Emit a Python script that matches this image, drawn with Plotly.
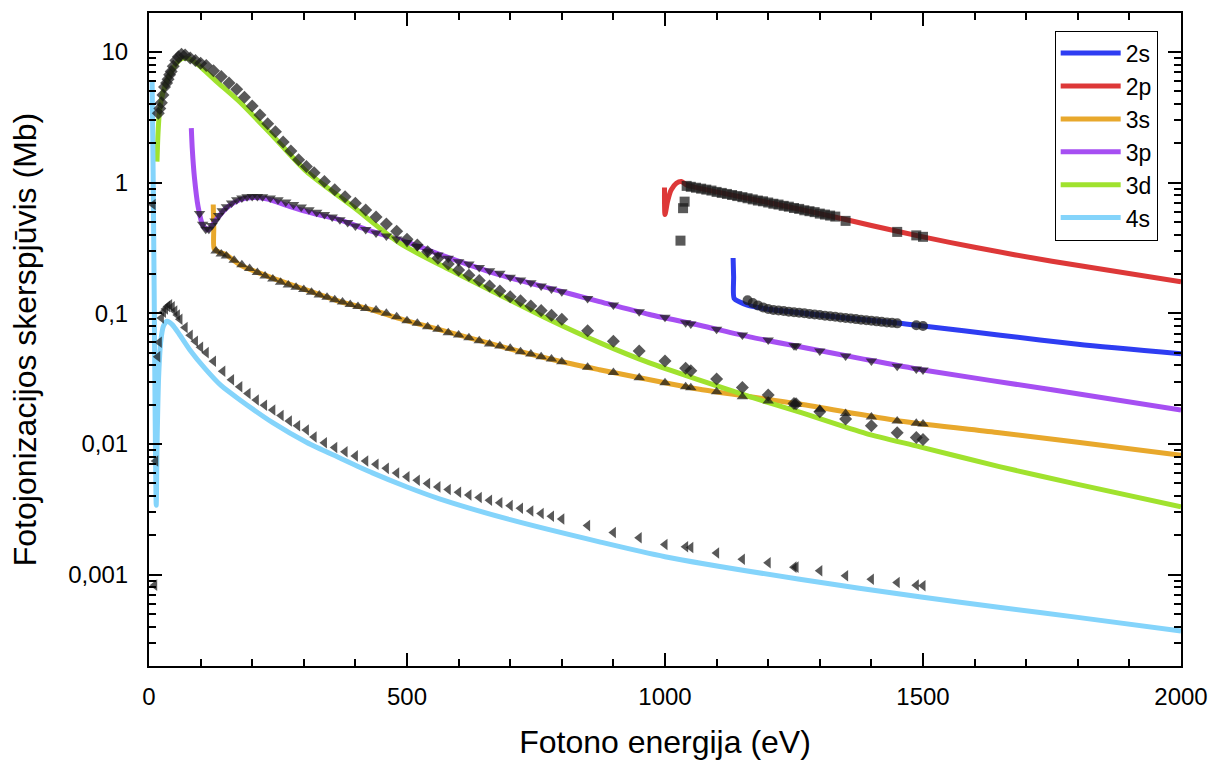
import plotly.graph_objects as go

# ---- calculated cross sections (lines) ----
e_2s = [1132, 1133, 1134, 1145, 1158, 1196, 1261, 1350, 1455, 1500, 1650, 1800, 2000]
s_2s = [0.265, 0.19, 0.13, 0.122, 0.116, 0.108, 0.101, 0.092, 0.084, 0.080, 0.068, 0.058, 0.049]

e_2p = [999, 1000, 1005, 1012, 1022, 1032, 1042, 1100, 1200, 1300, 1400, 1500, 1600, 1750, 2000]
s_2p = [0.92, 0.57, 0.72, 0.88, 0.99, 1.02, 0.96, 0.85, 0.705, 0.58, 0.47, 0.385, 0.32, 0.25, 0.174]

e_3s = [124.5, 125.5, 126.5, 135, 150, 176, 240, 305, 370, 434, 486, 563, 680, 800, 873,
        1000, 1067, 1261, 1454, 1648, 1800, 2000]
s_3s = [0.68, 0.45, 0.31, 0.295, 0.28, 0.235, 0.186, 0.151, 0.123, 0.106, 0.091, 0.075, 0.056,
        0.0426, 0.037, 0.0294, 0.0262, 0.0202, 0.015, 0.0122, 0.0103, 0.0082]

e_3p = [82, 84, 88, 95, 104, 114, 130, 150, 176, 200, 230, 272, 320, 370, 420, 466, 500, 583,
        680, 777, 873, 970, 1067, 1164, 1261, 1380, 1500, 1750, 2000]
s_3p = [2.62, 1.78, 1.1, 0.66, 0.475, 0.435, 0.52, 0.64, 0.74, 0.77, 0.75, 0.66, 0.58, 0.52,
        0.44, 0.386, 0.35, 0.265, 0.197, 0.155, 0.123, 0.098, 0.081, 0.066, 0.0555, 0.045,
        0.0368, 0.026, 0.0182]

e_3d = [15.5, 17.5, 20.7, 27, 37, 47, 55, 63, 72, 85, 100, 130, 176, 240, 305, 395, 486, 583,
        680, 777, 873, 970, 1067, 1164, 1261, 1390, 1494, 1648, 1800, 2000]
s_3d = [1.45, 2.4, 3.6, 4.9, 6.3, 7.5, 8.4, 8.9, 9.0, 8.6, 7.7, 6.0, 4.15, 2.28, 1.22, 0.656,
        0.344, 0.215, 0.138, 0.0888, 0.0596, 0.0417, 0.0308, 0.023, 0.0175, 0.012, 0.0095,
        0.0067, 0.0049, 0.0033]

e_4s = [6, 8, 10, 12, 14, 16, 19, 23, 28, 35, 45, 60, 80, 110, 140, 175, 239, 305, 370, 433,
        500, 563, 700, 873, 1000, 1261, 1500, 1650, 1800, 2000]
s_4s = [6.1, 1.2, 0.15, 0.015, 0.0034, 0.012, 0.035, 0.062, 0.080, 0.087, 0.082, 0.068, 0.052,
        0.0372, 0.0279, 0.0219, 0.0146, 0.0103, 0.0078, 0.0060, 0.00468, 0.0038, 0.00263,
        0.00178, 0.00137, 0.00092, 0.00067, 0.00056, 0.00047, 0.00037]

# ---- reference data points (markers) ----
p_2s_e = [1160, 1170, 1180, 1190, 1200, 1210, 1220, 1230, 1240, 1250, 1260, 1270, 1280, 1290,
          1300, 1310, 1320, 1330, 1340, 1350, 1360, 1370, 1380, 1390, 1400, 1410, 1420, 1430,
          1440, 1450, 1487, 1500]
p_2s_s = [0.126, 0.12, 0.115, 0.111, 0.108, 0.106, 0.105, 0.104, 0.103, 0.102, 0.101, 0.1,
          0.099, 0.098, 0.097, 0.096, 0.095, 0.094, 0.093, 0.092, 0.0912, 0.0903, 0.0894,
          0.0885, 0.0876, 0.0868, 0.086, 0.0852, 0.0845, 0.0838, 0.081, 0.080]

p_2p_e = [1030, 1035, 1038, 1042, 1050, 1060, 1070, 1080, 1090, 1100, 1110, 1120, 1130, 1140,
          1150, 1160, 1170, 1180, 1190, 1200, 1210, 1220, 1230, 1240, 1250, 1260, 1270, 1280,
          1290, 1300, 1310, 1320, 1330, 1350, 1450, 1487, 1500]
p_2p_s = [0.36, 0.638, 0.716, 0.945, 0.93, 0.915, 0.90, 0.885, 0.87, 0.85, 0.835, 0.82, 0.805,
          0.79, 0.775, 0.76, 0.745, 0.73, 0.72, 0.705, 0.69, 0.68, 0.665, 0.655, 0.64, 0.63,
          0.615, 0.605, 0.595, 0.58, 0.57, 0.56, 0.55, 0.51, 0.42, 0.395, 0.385]

p_3s_e = [130, 140, 150, 165, 180, 195, 210, 225, 240, 255, 270, 285, 300, 315, 330, 345, 360,
          375, 390, 405, 420, 440, 460, 480, 500, 520, 540, 560, 580, 600, 620, 640, 660, 680,
          700, 720, 740, 760, 780, 800, 850, 900, 950, 1000, 1040, 1050, 1100, 1150, 1200,
          1250, 1254, 1300, 1350, 1400, 1450, 1487, 1500]
p_3s_s = [0.30, 0.285, 0.275, 0.255, 0.235, 0.22, 0.205, 0.193, 0.183, 0.173, 0.165, 0.158,
          0.152, 0.145, 0.138, 0.133, 0.127, 0.122, 0.117, 0.113, 0.109, 0.106, 0.100, 0.0942,
          0.0878, 0.0838, 0.079, 0.0754, 0.071, 0.0682, 0.065, 0.0617, 0.0582, 0.0562, 0.0539,
          0.0508, 0.0488, 0.0465, 0.0447, 0.0426, 0.0386, 0.0353, 0.0321, 0.0294, 0.0274,
          0.0269, 0.0251, 0.023, 0.0213, 0.0202, 0.0201, 0.0184, 0.0171, 0.0161, 0.015,
          0.0144, 0.0142]

p_3p_e = [98, 104, 110, 116, 122, 128, 135, 142, 150, 160, 170, 180, 190, 200, 210, 220, 235,
          250, 265, 280, 295, 310, 325, 340, 355, 370, 385, 400, 420, 440, 460, 480, 500, 520,
          540, 560, 580, 600, 620, 640, 660, 680, 700, 720, 740, 760, 780, 800, 850, 900, 950,
          1000, 1040, 1050, 1100, 1150, 1200, 1250, 1254, 1300, 1350, 1400, 1450, 1487, 1500]
p_3p_s = [0.58, 0.48, 0.44, 0.44, 0.47, 0.51, 0.56, 0.61, 0.655, 0.70, 0.74, 0.765, 0.78,
          0.785, 0.785, 0.78, 0.765, 0.74, 0.71, 0.68, 0.65, 0.62, 0.595, 0.57, 0.545, 0.52,
          0.495, 0.467, 0.4385, 0.412, 0.391, 0.371, 0.349, 0.324, 0.296, 0.28, 0.264, 0.248,
          0.239, 0.224, 0.212, 0.2025, 0.189, 0.18, 0.1715, 0.162, 0.1535, 0.1464, 0.130,
          0.1158, 0.1029, 0.0932, 0.0848, 0.0828, 0.0754, 0.0682, 0.0624, 0.0565, 0.0562,
          0.0514, 0.0472, 0.0431, 0.0394, 0.0374, 0.0368]

p_3d_e = [18, 21, 24, 27, 30, 34, 37, 40, 43, 47, 52, 57, 63, 70, 80, 90, 100, 111, 125, 140,
          155, 170, 185, 200, 215, 230, 245, 260, 275, 290, 305, 320, 340, 360, 380, 400, 420,
          440, 460, 480, 500, 520, 540, 560, 580, 600, 620, 640, 660, 680, 700, 720, 740, 760,
          780, 800, 850, 900, 950, 1000, 1040, 1050, 1100, 1150, 1200, 1250, 1254, 1300, 1350,
          1400, 1450, 1487, 1500]
p_3d_s = [3.4, 3.7, 4.1, 4.7, 5.4, 5.8, 6.2, 6.7, 7.1, 7.8, 8.6, 9.2, 9.6, 9.5, 9.0, 8.6, 8.2,
          7.9, 7.2, 6.5, 5.8, 5.2, 4.5, 3.87, 3.3, 2.82, 2.45, 2.05, 1.75, 1.5, 1.33, 1.19,
          1.02, 0.881, 0.782, 0.697, 0.619, 0.547, 0.483, 0.424, 0.369, 0.334, 0.296, 0.264,
          0.239, 0.215, 0.196, 0.178, 0.162, 0.148, 0.134, 0.125, 0.114, 0.105, 0.0966, 0.090,
          0.0736, 0.061, 0.0514, 0.0431, 0.0379, 0.0363, 0.0314, 0.0271, 0.0237, 0.0204,
          0.0203, 0.0176, 0.0155, 0.0138, 0.0122, 0.0112, 0.0108]

p_4s_e = [8, 11, 13, 17, 20, 24, 28, 32, 36, 40, 45, 50, 55, 60, 70, 80, 90, 100, 111, 125,
          143, 160, 176, 192, 208, 224, 240, 256, 272, 288, 305, 320, 340, 360, 380, 400, 420,
          440, 460, 480, 500, 520, 540, 560, 580, 600, 620, 640, 660, 680, 700, 720, 740, 760,
          780, 800, 850, 900, 950, 1000, 1040, 1050, 1100, 1150, 1200, 1250, 1254, 1300, 1350,
          1400, 1450, 1487, 1500]
p_4s_s = [0.68, 0.00083, 0.0074, 0.0465, 0.06, 0.092, 0.102, 0.108, 0.113, 0.116, 0.112,
          0.104, 0.097, 0.09, 0.078, 0.068, 0.061, 0.055, 0.05, 0.043, 0.036, 0.031, 0.0274,
          0.0243, 0.0217, 0.0198, 0.0182, 0.0165, 0.015, 0.0138, 0.0128, 0.0113, 0.0102,
          0.0094, 0.0087, 0.0081, 0.0074, 0.007, 0.0065, 0.006, 0.0056, 0.00528, 0.00498,
          0.00469, 0.00448, 0.00427, 0.00407, 0.00389, 0.00371, 0.00354, 0.00337, 0.00322,
          0.00307, 0.00293, 0.00279, 0.00266, 0.00237, 0.0021, 0.00191, 0.0017, 0.00163,
          0.00161, 0.00146, 0.00131, 0.00123, 0.00114, 0.00114, 0.00107, 0.00098, 0.00092,
          0.00087, 0.00083, 0.00082]

labels = ["2s", "2p", "3s", "3p", "3d", "4s"]
colors = ["#2e3df2", "#dd3838", "#e8a82c", "#a64ff2", "#a0e22e", "#84d4fb"]
symbols = ["circle", "square", "triangle-up", "triangle-down", "diamond", "triangle-left"]
line_data = [(e_2s, s_2s), (e_2p, s_2p), (e_3s, s_3s), (e_3p, s_3p), (e_3d, s_3d), (e_4s, s_4s)]
point_data = [(p_2s_e, p_2s_s), (p_2p_e, p_2p_s), (p_3s_e, p_3s_s), (p_3p_e, p_3p_s),
              (p_3d_e, p_3d_s), (p_4s_e, p_4s_s)]

FONT = "Liberation Sans, Arial, sans-serif"

fig = go.Figure()
for lab, col, (ex, sy) in zip(labels, colors, line_data):
    fig.add_trace(go.Scatter(x=ex, y=sy, mode="lines", name=lab,
                             line=dict(color=col, width=5, shape="spline", smoothing=0.7)))
for sym, (ex, sy) in zip(symbols, point_data):
    fig.add_trace(go.Scatter(x=ex, y=sy, mode="markers", showlegend=False,
                             marker=dict(symbol=sym, size=10, color="rgba(25,25,25,0.72)",
                                         line=dict(width=0))))

x_minor = [v for v in range(100, 2000, 100) if v % 500]
y_minor = [k * 10.0 ** p for p in range(-4, 2) for k in range(2, 10)]

axis_common = dict(showline=True, linewidth=2, linecolor="black", mirror="ticks",
                   ticks="inside", ticklen=13, tickwidth=2, tickcolor="black",
                   showgrid=False, zeroline=False, automargin=False,
                   tickfont=dict(family=FONT, size=24, color="black"))

fig.update_xaxes(range=[0, 2000], tickvals=[0, 500, 1000, 1500, 2000],
                 ticklabelstandoff=8,
                 minor=dict(tickvals=x_minor, ticks="inside", ticklen=7, tickwidth=2,
                            tickcolor="black", showgrid=False),
                 title=dict(text="Fotono energija (eV)", standoff=24,
                            font=dict(family=FONT, size=32, color="black")),
                 **axis_common)
fig.update_yaxes(type="log", range=[-3.70, 1.299],
                 tickvals=[0.001, 0.01, 0.1, 1, 10],
                 ticktext=["0,001", "0,01", "0,1", "1", "10"],
                 ticklabelstandoff=14,
                 minor=dict(tickvals=y_minor, ticks="inside", ticklen=7, tickwidth=2,
                            tickcolor="black", showgrid=False),
                 title=dict(text="Fotojonizacijos skerspjūvis (Mb)", standoff=22,
                            font=dict(family=FONT, size=32, color="black")),
                 **axis_common)

fig.update_layout(
    width=1218, height=760,
    margin=dict(l=149, r=37, t=13, b=94),
    paper_bgcolor="white", plot_bgcolor="white",
    font=dict(family=FONT, color="black"),
    legend=dict(x=0.8776, y=0.973, xanchor="left", yanchor="top",
                bgcolor="white", bordercolor="black", borderwidth=1,
                font=dict(family=FONT, size=23, color="black"),
                itemwidth=60, tracegroupgap=0),
)

fig.write_html("out.html")
